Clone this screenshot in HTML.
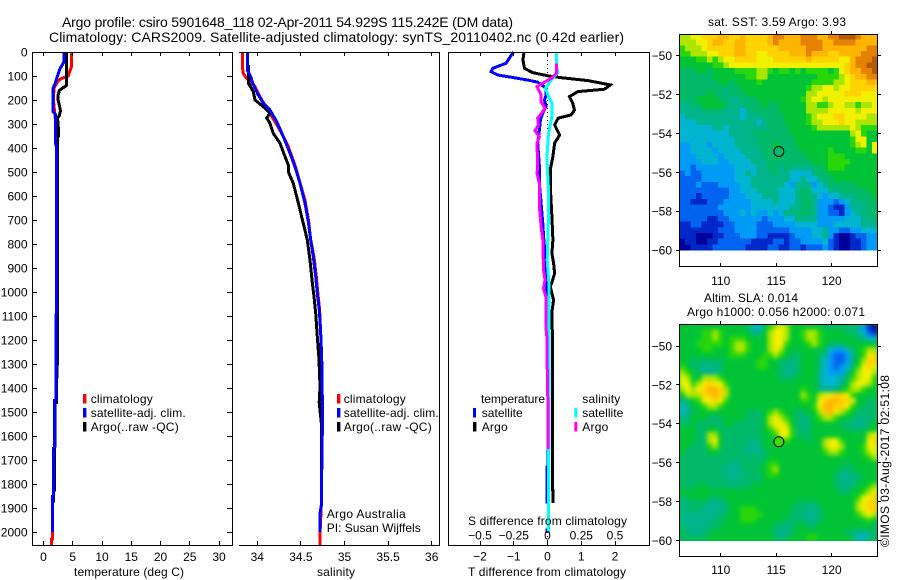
<!DOCTYPE html>
<html>
<head>
<meta charset="utf-8">
<title>Argo profile</title>
<style>
html,body{margin:0;padding:0;background:#fff;}
svg{display:block;}
text{font-family:"Liberation Sans",sans-serif;font-size:12px;fill:#000;}
.t{font-size:14px;}
</style>
</head>
<body>
<svg id="chart" xmlns="http://www.w3.org/2000/svg" width="900" height="580" viewBox="0 0 900 580">
<defs>
<filter id="slaBlur" x="-5%" y="-5%" width="110%" height="110%" color-interpolation-filters="sRGB"><feGaussianBlur stdDeviation="2"/></filter>
<clipPath id="slaClip"><rect x="680" y="325" width="197" height="216"/></clipPath>
</defs>
<rect x="0" y="0" width="900" height="580" fill="#fff"/>
<text class="t" x="62" y="27" textLength="451">Argo profile: csiro 5901648_118 02-Apr-2011 54.929S 115.242E (DM data)</text>
<text class="t" x="49" y="42" textLength="575">Climatology: CARS2009. Satellite-adjusted climatology: synTS_20110402.nc (0.42d earlier)</text>
<g id="profiles"></g>
<g id="maps"></g>

<text x="74" y="576" textLength="110">temperature (deg C)</text>
<text x="317" y="576" textLength="38">salinity</text>
<text x="468" y="576" textLength="158">T difference from climatology</text>
<text x="468" y="525" textLength="159">S difference from climatology</text>

<rect x="83" y="394" width="3.4" height="9.5" fill="#ff0000"/>
<rect x="83" y="408" width="3.4" height="9.5" fill="#0000ff"/>
<rect x="83" y="422" width="3.4" height="9.5" fill="#000"/>
<text x="90.7" y="403" textLength="62">climatology</text>
<text x="90.7" y="417" textLength="95">satellite-adj. clim.</text>
<text x="90.7" y="431" textLength="88">Argo(..raw -QC)</text>

<rect x="337" y="394" width="3.4" height="9.5" fill="#ff0000"/>
<rect x="337" y="408" width="3.4" height="9.5" fill="#0000ff"/>
<rect x="337" y="422" width="3.4" height="9.5" fill="#000"/>
<text x="343.7" y="403" textLength="62">climatology</text>
<text x="343.7" y="417" textLength="95">satellite-adj. clim.</text>
<text x="343.7" y="431" textLength="88">Argo(..raw -QC)</text>

<text x="326.7" y="518" textLength="79">Argo Australia</text>
<text x="326.7" y="532" textLength="94">PI: Susan Wijffels</text>

<text x="481" y="403" textLength="64">temperature</text>
<text x="481.7" y="417" textLength="41">satellite</text>
<text x="481.7" y="431" textLength="26">Argo</text>
<rect x="473" y="408" width="3" height="9.5" fill="#0000ff"/>
<rect x="473" y="422" width="3.4" height="9.5" fill="#000"/>
<text x="582.3" y="403" textLength="38">salinity</text>
<text x="582.3" y="417" textLength="41">satellite</text>
<text x="582.3" y="431" textLength="26">Argo</text>
<rect x="574.3" y="408" width="3" height="9.5" fill="#00ffff"/>
<rect x="574.3" y="422" width="3" height="9.5" fill="#ff00ff"/>

<text x="708" y="26" textLength="138">sat. SST: 3.59 Argo: 3.93</text>
<text x="704" y="302" textLength="94">Altim. SLA: 0.014</text>
<text x="687" y="316" textLength="178">Argo h1000: 0.056 h2000: 0.071</text>
<text transform="translate(889 547) rotate(-90)" x="0" y="0" textLength="172">©IMOS 03-Aug-2017 02:51:08</text>
</svg>

<script>
// ---- axis tick labels ----
const depthTicks = [0,100,200,300,400,500,600,700,800,900,1000,1100,1200,1300,1400,1500,1600,1700,1800,1900,2000];
const tempTicks = [0,5,10,15,20,25,30];
const salTicks = [34,34.5,35,35.5,36];
const salTickLabels = ['34','34.5','35','35.5','36'];
const tDiffTicks = [-2,-1,0,1,2];
const tDiffLabels = ['\u22122','\u22121','0','1','2'];
const sDiffTicks = [-0.5,-0.25,0,0.25,0.5];
const sDiffLabels = ['\u22120.5','\u22120.25','0','0.25','0.5'];
const lonTicks = [110,115,120];
const latTicks = [-50,-52,-54,-56,-58,-60];
const latLabels = ['\u221250','\u221252','\u221254','\u221256','\u221258','\u221260'];

// ---- temperature profiles ----
const climTempDepth = [0,60,80,100,110,120,150,200,250,300,350,400,600,1000,1380,1450,1451,1650,1651,1850,1851,2000,2001,2030,2031,2055];
const climTempValue = [4.8,4.8,4.5,4.2,3.1,2.5,1.8,1.7,1.9,2.1,2.2,2.3,2.3,2.2,2.1,2.1,1.91,1.91,1.74,1.74,1.5,1.5,1.57,1.57,1.4,1.4];
const satTempDepth = [0,40,50,70,100,130,150,250,260,380,400,600,1000,1380,1450,1451,1650,1651,1850,1851,2000];
const satTempValue = [3.5,3.5,3.3,2.8,2.4,2.0,1.65,1.65,2.05,2.05,2.25,2.25,2.2,2.1,2.1,1.91,1.91,1.74,1.74,1.5,1.5];
const argoTempDepth = [0,130,140,160,180,200,220,245,265,275,300,350,355,400,600,900,1300,1400,1460,1461,1640,1650,1825,1826,1878];
const argoTempValue = [3.95,3.95,3.9,2.7,2.5,2.5,2.7,2.9,2.7,2.4,2.5,2.6,2.4,2.4,2.4,2.42,2.36,2.2,2.2,2.0,2.0,1.88,1.88,1.71,1.71];

// ---- salinity profiles ----
const climSalDepth = [0,60,90,110,144,186,235,290,339,394,472,617,707,783,853,936,1006,1075,1172,1270,1880,2000,2055];
const climSalValue = [33.828,33.828,33.84,33.878,33.974,34.03,34.108,34.203,34.28,34.355,34.432,34.547,34.59,34.612,34.65,34.677,34.695,34.715,34.727,34.735,34.735,34.72,34.72];
const satSalDepth = [0,75,103,137,179,213,242,290,353,422,478,547,630,707,783,853,936,1006,1075,1172,1270,1550,1650,1880,1920,2000];
const satSalValue = [33.885,33.885,33.924,33.954,34.012,34.069,34.146,34.222,34.299,34.375,34.432,34.49,34.547,34.585,34.612,34.642,34.67,34.688,34.711,34.727,34.738,34.75,34.74,34.738,34.72,34.72];
const argoSalDepth = [54,130,165,200,228,255,275,297,339,380,436,471,499,547,603,658,714,783,867,950,1019,1089,1186,1283,1394,1460,1550,1880];
const argoSalValue = [33.897,33.897,33.954,33.974,34.069,34.146,34.108,34.146,34.184,34.26,34.318,34.355,34.355,34.413,34.452,34.49,34.528,34.573,34.604,34.627,34.65,34.67,34.688,34.708,34.719,34.71,34.735,34.735];

// ---- differences from climatology ----
const satTDiffDepth = [0,47,68,82,96,105,117,126,151,179,200,228,255,283,325,380,478,547,630,714,783,840,978,1400,1728,1729,1875,1876,1990,1991,2005];
const satTDiffValue = [-1.01,-1.23,-1.62,-1.67,-1.48,-1.08,-0.58,-0.29,-0.04,-0.04,-0.09,-0.04,-0.14,-0.21,-0.24,-0.29,-0.24,-0.24,-0.19,-0.14,-0.11,-0.07,-0.03,0.01,0.02,-0.01,-0.01,0.03,0.03,-0.01,-0.01];
const argoTDiffDepth = [5,33,68,86,99,107,119,137,155,165,186,214,242,262,276,304,346,380,436,485,575,686,783,839,880,922,957,978,1033,1075,1825,1826,1880];
const argoTDiffValue = [-0.70,-0.73,-0.68,-0.44,0.01,0.41,1.2,1.86,1.69,0.9,0.65,0.75,0.8,0.7,0.31,0.21,0.36,0.21,0.16,0.09,0.09,0.13,0.16,0.13,0.18,0.21,0.14,0.08,0.18,0.14,0.155,0.17,0.17];
const satSDiffDepth = [0,61,85,117,151,186,214,269,339,422,464,575,672,783,867,922,978,1650,1651,2000];
const satSDiffValue = [0.26,0.26,0.31,0.11,-0.06,0.03,0.13,0.13,0.03,-0.01,-0.01,0.03,0.03,0.01,-0.01,0.02,0.05,0.05,0.03,0.03];
const argoSDiffDepth = [47,89,110,144,179,207,235,276,304,328,353,380,478,506,547,644,728,783,908,950,985,1019,1144,1200,1311,1490,1654];
const argoSDiffValue = [0.26,0.26,0.11,-0.31,-0.19,-0.19,-0.07,-0.29,-0.27,-0.37,-0.24,-0.31,-0.29,-0.31,-0.24,-0.24,-0.19,-0.14,-0.12,-0.07,-0.12,-0.05,-0.05,-0.01,-0.01,0.015,0.02];

// ---- map extents ----
const mapRowCount = 38;
const mapColCount = 36;

// ---- SST map cells (colour-scale level, north row first) ----
const sstGrid = [
[9,9,10,10,11,11,11,12,12,11,11,12,11,11,11,11,12,13,13,12,12,12,13,13,13,12,12,13,13,14,14,14,13,12,12,12],
[9,9,9,10,10,11,12,12,11,11,12,12,11,11,11,11,12,13,12,12,12,12,13,13,13,13,12,12,13,13,13,13,12,12,12,12],
[8,9,9,9,10,11,11,11,11,11,12,12,11,11,11,11,11,11,12,12,12,12,12,13,13,13,12,12,12,12,12,12,12,12,13,13],
[8,8,9,9,9,10,10,11,11,11,12,12,11,11,10,10,11,11,11,11,12,12,12,13,12,12,12,11,11,12,12,12,12,13,13,13],
[7,7,7,8,8,9,8,9,10,10,11,11,11,11,10,10,10,11,11,11,11,11,11,12,11,11,11,11,11,10,10,12,13,13,13,14],
[7,7,7,7,7,7,8,8,9,10,10,10,10,10,10,10,10,10,10,10,10,10,10,10,10,10,10,10,10,10,11,12,13,13,14,14],
[6,6,6,7,7,6,7,7,7,7,8,8,8,8,9,9,8,7,8,8,7,8,7,8,8,8,8,7,8,10,11,12,12,13,13,14],
[6,6,6,6,6,6,7,7,7,7,7,7,8,8,9,9,7,7,7,7,7,7,7,7,7,8,8,8,8,9,10,11,12,12,13,13],
[6,6,6,6,6,6,6,7,7,6,7,7,7,7,8,7,7,7,7,7,7,7,7,7,8,8,8,8,9,9,10,11,11,11,12,12],
[6,6,6,6,6,6,6,6,6,6,6,7,7,7,7,7,7,7,7,7,7,7,7,8,9,9,10,10,9,10,10,11,11,11,11,11],
[6,6,6,6,6,7,6,6,5,6,6,6,7,7,7,7,7,7,7,7,7,7,7,9,9,10,10,10,10,10,11,11,11,10,10,10],
[6,6,6,7,7,7,7,6,6,5,5,6,6,6,7,7,7,7,7,7,7,7,8,9,10,10,9,10,10,10,10,10,10,10,10,10],
[5,5,6,6,7,7,7,7,6,5,5,5,6,6,6,7,6,6,7,7,7,7,7,9,9,8,8,9,10,10,9,9,8,9,9,10],
[5,5,5,5,6,6,6,6,5,5,5,4,5,6,6,6,6,6,7,7,7,7,7,9,9,9,9,10,10,10,10,10,9,10,10,10],
[4,5,5,5,5,5,5,5,5,5,5,4,5,5,5,6,6,6,6,7,7,7,7,8,9,10,10,10,11,11,10,10,10,10,9,9],
[4,4,4,5,5,5,5,5,5,5,5,5,5,5,4,5,6,6,6,7,7,7,7,8,9,9,10,10,10,11,10,10,9,9,9,9],
[4,4,4,4,4,4,5,5,4,5,5,5,5,5,5,5,6,6,6,6,7,7,7,7,8,9,9,9,9,9,9,10,9,8,8,8],
[4,4,4,4,4,4,4,4,4,5,5,5,5,6,6,6,6,6,6,6,7,7,7,7,7,7,7,7,7,7,7,9,10,8,7,7],
[4,4,4,4,4,4,4,4,4,4,5,5,5,5,6,6,6,6,6,6,6,7,7,7,7,7,7,7,7,7,7,8,10,10,7,7],
[3,3,4,4,4,3,4,4,4,4,5,5,5,5,6,6,6,7,6,6,6,7,7,7,7,7,7,7,7,7,7,8,9,10,7,10],
[3,3,4,4,4,4,3,4,4,4,4,5,5,5,5,6,6,6,6,6,6,6,7,7,7,7,7,8,7,7,7,7,8,8,7,10],
[3,3,3,4,4,4,4,3,4,4,4,4,5,5,5,6,6,6,6,6,6,6,6,7,7,7,7,8,8,8,7,7,7,7,7,7],
[3,3,3,3,4,4,4,3,3,4,4,4,4,5,5,5,6,6,6,6,6,6,6,6,7,7,7,8,8,8,8,7,7,7,7,7],
[3,3,2,3,3,3,3,3,3,3,4,4,4,4,5,5,6,6,5,6,5,5,5,5,6,6,7,8,8,8,7,7,7,7,7,7],
[2,3,2,2,3,3,3,3,3,3,4,4,5,4,5,5,5,6,5,5,4,4,4,4,5,6,6,7,7,7,7,7,7,7,7,7],
[2,2,2,2,3,3,3,3,3,3,4,4,4,5,5,5,5,5,5,5,4,4,5,4,4,5,6,6,7,7,7,7,7,7,7,7],
[2,2,2,3,2,2,2,3,3,3,3,4,4,5,5,5,5,5,5,4,3,5,5,5,3,4,5,6,6,6,6,6,7,7,7,7],
[2,2,2,2,2,2,2,2,2,3,3,4,4,4,5,5,5,5,4,4,4,5,6,6,4,4,4,5,5,6,6,6,6,6,7,7],
[2,2,2,1,2,2,2,2,2,3,3,3,4,4,4,5,5,5,4,4,4,5,6,6,5,4,3,4,4,5,5,5,6,6,6,7],
[2,2,1,1,1,2,2,2,3,3,3,3,3,4,4,4,4,5,4,4,4,5,6,6,5,3,3,3,2,3,4,5,5,6,6,6],
[2,2,2,2,2,2,2,3,3,3,3,3,3,4,4,4,4,4,4,4,5,5,6,6,5,3,3,2,1,1,3,5,5,5,6,6],
[2,2,2,2,2,2,2,2,3,3,3,4,3,4,3,3,4,3,4,5,5,6,6,6,5,3,3,2,2,1,3,4,5,5,6,6],
[2,2,2,2,2,1,1,2,2,3,3,3,3,3,3,2,3,3,3,4,4,5,5,5,5,3,3,3,3,3,4,4,4,5,5,6],
[1,1,2,2,1,1,1,1,2,2,3,3,3,3,2,2,2,3,3,3,3,4,4,4,4,3,3,3,4,4,4,4,4,5,5,5],
[1,1,1,1,1,1,1,2,2,2,3,3,3,3,2,2,2,2,2,2,3,3,3,3,4,4,5,3,3,2,2,3,3,4,4,4],
[1,1,1,0,0,0,1,1,2,2,2,3,3,3,2,2,1,1,1,1,2,3,3,3,4,4,5,3,1,0,0,1,2,2,3,3],
[0,1,1,0,0,1,1,2,2,2,2,2,2,1,1,1,1,2,2,1,2,2,3,3,3,3,4,2,1,0,0,1,1,2,3,3],
[0,0,1,1,1,1,2,2,2,2,2,2,1,1,1,1,2,2,1,1,2,2,1,2,2,2,3,2,1,0,0,1,1,2,3,3]
];

// ---- SLA map cells (colour-scale level, north row first) ----
const slaGrid = [
[7,7,7,7,7,7,7,7,7,7,7,7,6,4,4,6,8,9,10,9,7,7,7,7,7,7,6,6,6,6,6,6,5,3,1,0],
[7,7,7,7,8,8,9,8,7,7,7,7,7,5,5,7,9,10,10,9,7,7,8,9,9,8,7,7,7,7,6,6,5,4,2,1],
[7,7,7,7,8,8,9,8,7,8,8,8,7,7,7,7,9,10,10,9,7,7,8,9,9,8,7,7,7,7,7,7,6,5,4,4],
[7,7,7,8,8,8,8,8,7,8,9,9,8,7,7,7,9,10,10,8,7,7,7,8,9,8,7,6,6,6,7,7,7,7,7,7],
[7,7,7,7,8,8,7,7,7,8,9,9,8,7,7,7,9,10,9,7,7,7,7,7,7,7,6,4,3,3,4,6,7,8,9,9],
[7,7,7,7,7,7,7,7,7,8,8,8,7,7,7,8,8,9,8,7,6,6,7,7,7,6,5,3,2,2,3,5,7,8,10,11],
[7,7,6,6,6,6,6,6,7,7,7,7,7,7,8,8,7,7,6,6,5,6,7,7,7,6,4,3,2,2,3,5,7,9,11,11],
[8,7,6,6,5,5,5,6,7,7,7,7,7,7,8,8,7,7,6,5,5,6,7,7,7,6,4,3,2,3,4,6,8,10,11,10],
[9,8,7,6,5,5,5,6,7,7,7,7,7,7,7,7,7,7,6,5,5,6,7,7,7,5,4,3,3,3,5,7,9,10,10,9],
[10,9,7,7,9,9,9,8,7,7,7,7,7,7,7,7,7,7,6,6,6,7,7,7,7,5,4,4,4,5,6,8,9,10,10,8],
[10,10,8,9,10,11,10,10,8,7,7,7,7,7,7,7,7,7,7,7,7,7,7,7,7,5,4,4,4,5,7,9,10,10,9,8],
[9,10,9,10,11,12,12,11,9,7,7,7,7,7,7,7,7,7,7,7,7,7,8,7,7,6,5,5,6,7,8,9,9,8,7,7],
[7,9,9,9,11,11,12,11,9,7,7,7,7,7,7,7,7,7,7,7,7,7,9,8,7,9,10,10,11,11,10,8,7,7,7,7],
[5,6,7,8,10,10,11,10,8,7,7,7,7,7,7,7,7,7,7,7,7,7,8,8,7,10,11,12,12,11,11,10,7,7,6,6],
[4,5,7,7,8,9,9,8,7,7,7,7,7,7,7,7,7,7,7,7,7,7,7,7,8,10,12,12,11,11,10,8,7,6,6,6],
[4,5,6,7,7,7,7,7,7,7,7,7,6,6,6,7,8,9,8,7,7,6,6,7,7,9,11,12,10,9,8,7,6,6,6,6],
[5,6,7,7,7,6,6,6,7,7,7,7,6,6,6,7,9,10,9,8,7,6,5,6,7,8,9,9,8,7,7,6,6,5,6,6],
[6,6,7,6,6,6,6,6,7,7,6,6,6,6,6,7,9,10,10,9,7,6,5,6,7,7,7,7,7,6,6,5,5,5,6,7],
[7,7,7,6,6,7,7,6,6,6,6,6,6,6,6,7,8,9,10,10,8,6,6,6,7,7,7,7,7,7,6,6,6,6,7,7],
[7,7,7,6,6,9,9,7,6,6,6,6,6,6,6,7,7,8,10,10,8,6,6,6,7,7,7,7,7,7,7,7,7,7,9,10],
[7,7,7,6,6,9,10,7,6,6,6,6,6,5,6,7,7,7,8,8,7,7,7,6,7,7,9,10,10,8,7,7,7,7,10,11],
[7,7,6,6,6,8,9,7,6,6,6,6,5,5,5,7,7,7,7,7,7,7,7,7,7,7,9,10,10,9,7,7,7,8,10,10],
[7,6,6,6,6,7,7,6,6,6,6,6,5,5,5,6,7,7,7,7,7,7,7,7,7,7,8,9,9,8,7,7,7,8,9,10],
[6,6,6,6,6,6,6,6,6,6,6,6,6,6,6,6,7,7,7,7,7,7,7,7,7,7,7,7,7,7,7,7,7,7,8,9],
[6,6,6,6,6,6,6,6,6,5,5,6,6,6,6,7,8,8,7,7,7,7,7,7,7,7,7,7,7,7,6,7,7,7,7,7],
[6,6,6,6,6,6,6,6,5,5,5,6,6,6,7,7,8,9,7,7,7,7,7,7,7,7,7,7,7,6,6,6,7,7,7,7],
[6,6,6,6,6,6,6,6,5,5,5,5,6,6,6,7,8,8,7,7,7,7,7,7,7,7,7,7,6,5,5,6,6,7,7,7],
[6,6,6,6,6,6,6,6,6,5,5,6,6,6,6,7,7,7,7,7,7,7,7,7,7,7,7,7,6,5,5,5,6,7,7,7],
[6,6,6,7,7,6,6,6,6,6,6,6,6,7,7,7,7,7,7,7,7,7,7,7,7,7,7,7,6,6,5,6,7,7,8,9],
[7,7,7,7,7,7,7,7,7,7,7,7,7,7,7,7,7,7,7,7,7,7,7,7,7,7,7,7,7,6,6,7,7,8,9,10],
[6,6,7,7,7,6,6,6,7,7,7,7,7,7,7,7,7,7,7,7,7,7,7,7,7,7,7,7,7,7,7,7,8,10,10,11],
[5,6,6,6,6,5,5,5,6,7,7,7,7,7,7,7,7,7,7,7,7,6,6,6,6,7,7,7,7,7,7,7,9,10,11,11],
[5,6,6,6,5,5,5,5,6,7,7,8,8,8,7,7,7,7,7,7,6,6,6,5,5,6,7,7,7,7,7,7,9,10,11,11],
[5,5,5,5,5,5,5,6,6,7,7,8,8,8,8,7,7,7,7,7,6,6,5,5,5,6,7,7,7,7,7,7,8,9,10,9],
[5,5,5,5,5,5,6,6,7,7,7,8,8,8,7,7,7,7,7,6,6,6,6,5,5,6,7,7,7,7,7,7,7,7,8,7],
[6,5,5,5,5,6,6,6,7,7,7,7,7,7,7,7,7,6,6,5,6,7,7,6,6,7,7,7,7,7,7,7,7,7,7,6],
[6,6,5,5,6,6,7,7,7,7,7,7,7,7,7,7,7,5,5,5,6,7,7,7,7,7,7,7,7,7,6,6,5,5,6,6],
[6,6,6,6,6,7,7,7,7,7,7,7,7,7,7,7,7,6,5,6,7,7,7,8,8,7,7,7,7,7,7,6,4,4,5,6]
];

// ---- Argo float position ----
const argoLon = 115.24;
const argoLat = -54.93;

// ---- axis functions ----
function yDepth(d){ return 52 + 0.24 * d; }
function xTemp(t){ return 43.5 + 5.85 * t; }
function xSal(s){ return 257.3 + 87.2 * (s - 34); }
function xDiff(v){ return 547.5 + 33.75 * v; }
function xSDiff(s){ return xDiff(s * 4); }
function xLon(lon){ return 720.7 + 11.1 * (lon - 110); }
function yLatTop(lat){ return 55.7 + 19.43 * (-50 - lat); }
function yLatBottom(lat){ return 346 + 19.43 * (-50 - lat); }

// colour scale anchors for map levels
const palette = ['#00009a','#0028c8','#0064f0','#009bf5','#00b4d2','#00b48c','#00ba6a','#00c436','#28d60a','#aae600','#f0f000','#ffd200','#ffb400','#e68200','#b45a00'];
function levelColor(v){
  const i = Math.max(0, Math.min(palette.length - 1, Math.round(v)));
  return palette[i];
}

const NS = 'http://www.w3.org/2000/svg';
const profiles = document.getElementById('profiles');
const maps = document.getElementById('maps');

function make(tag, parent, attrs){
  const el = document.createElementNS(NS, tag);
  for (const k in attrs) el.setAttribute(k, attrs[k]);
  parent.appendChild(el);
  return el;
}
function crispLine(parent, x1, y1, x2, y2){
  return make('line', parent, {x1:x1, y1:y1, x2:x2, y2:y2, stroke:'#000', 'stroke-width':1, 'shape-rendering':'crispEdges'});
}
function px(v){ return Math.floor(v) + 0.5; }
function curve(parent, depths, values, xFn, color){
  const pts = depths.map(function(d, i){ return xFn(values[i]).toFixed(1) + ',' + yDepth(d).toFixed(1); }).join(' ');
  return make('polyline', parent, {points:pts, fill:'none', stroke:color, 'stroke-width':3, 'stroke-linejoin':'miter', 'shape-rendering':'crispEdges'});
}

// ---- profile curves ----
let c;
c = curve(profiles, climTempDepth, climTempValue, xTemp, '#ff0000');


c = curve(profiles, argoTempDepth, argoTempValue, xTemp, '#000000');


c = curve(profiles, satTempDepth, satTempValue, xTemp, '#0000ff');


c = curve(profiles, climSalDepth, climSalValue, xSal, '#ff0000');


c = curve(profiles, argoSalDepth, argoSalValue, xSal, '#000000');


c = curve(profiles, satSalDepth, satSalValue, xSal, '#0000ff');



// zero reference line on difference panel
const zero = make('line', profiles, {x1:xDiff(0), y1:52, x2:xDiff(0), y2:545, stroke:'#000', 'stroke-width':1, 'stroke-dasharray':'1 3', 'shape-rendering':'crispEdges'});



c = curve(profiles, satTDiffDepth, satTDiffValue, xDiff, '#0000ff');


c = curve(profiles, argoTDiffDepth, argoTDiffValue, xDiff, '#000000');


c = curve(profiles, satSDiffDepth, satSDiffValue, xDiff, '#00ffff');


c = curve(profiles, argoSDiffDepth, argoSDiffValue, xDiff, '#ff00ff');



// ---- panel frames ----
let f;
f = make('path', profiles, {d:'M32.5 52.5H232.5V545.5H32.5Z', fill:'none', stroke:'#000', 'stroke-width':1, 'shape-rendering':'crispEdges'});


f = make('path', profiles, {d:'M239 52.5H439.5V545.5H239', fill:'none', stroke:'#000', 'stroke-width':1, 'shape-rendering':'crispEdges'});


f = make('path', profiles, {d:'M448.5 52.5H649.5V545.5H448.5Z', fill:'none', stroke:'#000', 'stroke-width':1, 'shape-rendering':'crispEdges'});



// ---- depth ticks + labels ----
depthTicks.forEach(function(d){
  const y = px(yDepth(d));
  const t = crispLine(profiles, 32, y, 37, y);
  
  
  const r = crispLine(profiles, 227, y, 232, y);
  
  
  const l = make('text', profiles, {x:27.5, y:yDepth(d) + 4.5, 'text-anchor':'end'});
  l.textContent = String(d);
  
  
});

// ---- temperature ticks ----
tempTicks.forEach(function(v){
  const x = px(xTemp(v));
  const a = crispLine(profiles, x, 52, x, 56);
  
  
  const b = crispLine(profiles, x, 541, x, 545);
  
  
  const l = make('text', profiles, {x:xTemp(v), y:561, 'text-anchor':'middle'});
  l.textContent = String(v);
  
  
});

// ---- salinity ticks ----
salTicks.forEach(function(v, i){
  const x = px(xSal(v));
  const a = crispLine(profiles, x, 52, x, 56);
  
  
  const b = crispLine(profiles, x, 541, x, 545);
  
  
  const l = make('text', profiles, {x:xSal(v), y:561, 'text-anchor':'middle'});
  l.textContent = salTickLabels[i];
  
  
});

// ---- difference ticks ----
tDiffTicks.forEach(function(v, i){
  const x = px(xDiff(v));
  const a = crispLine(profiles, x, 52, x, 56);
  
  
  const b = crispLine(profiles, x, 541, x, 545);
  
  
  const l = make('text', profiles, {x:xDiff(v), y:560.5, 'text-anchor':'middle'});
  l.textContent = tDiffLabels[i];
  
  
});
sDiffTicks.forEach(function(v, i){
  const l = make('text', profiles, {x:xSDiff(v), y:539.5, 'text-anchor':'middle'});
  l.textContent = sDiffLabels[i];
  
  
});

// ---- maps ----
const mapLeft = 679.5;
const mapRight = 877.5;
const cellW = (mapRight - mapLeft) / mapColCount;
const sstCellH = (yLatTop(-60) - 34) / mapRowCount;
const slaCellH = (yLatBottom(-60) - 324) / mapRowCount;

sstGrid.forEach(function(row, r){
  row.forEach(function(v, col){
    const cell = make('rect', maps, {x:mapLeft + col * cellW, y:34 + r * sstCellH, width:cellW + 0.3, height:sstCellH + 0.3, fill:levelColor(v), 'shape-rendering':'crispEdges'});
    
    
  });
});

const slaClipGroup = make('g', maps, {'clip-path':'url(#slaClip)'});


const slaBacking = make('rect', slaClipGroup, {x:670, y:315, width:215, height:235, fill:palette[7]});


const slaGroup = make('g', slaClipGroup, {filter:'url(#slaBlur)'});


slaGrid.forEach(function(row, r){
  row.forEach(function(v, col){
    const cell = make('rect', slaGroup, {x:mapLeft + col * cellW, y:324 + r * slaCellH, width:cellW + 0.3, height:slaCellH + 0.3, fill:levelColor(v), 'shape-rendering':'crispEdges'});
    
    
  });
});

f = make('rect', maps, {x:679.5, y:34.5, width:198, height:232, fill:'none', stroke:'#000', 'stroke-width':1, 'shape-rendering':'crispEdges'});


f = make('rect', maps, {x:679.5, y:324.5, width:198, height:232, fill:'none', stroke:'#000', 'stroke-width':1, 'shape-rendering':'crispEdges'});



latTicks.forEach(function(lat, i){
  const y1 = px(yLatTop(lat));
  const a = crispLine(maps, 676, y1, 680, y1);
  
  
  const a2 = crispLine(maps, 877, y1, 881, y1);
  
  
  const l1 = make('text', maps, {x:672, y:yLatTop(lat) + 4.5, 'text-anchor':'end'});
  l1.textContent = latLabels[i];
  
  
  const y2 = px(yLatBottom(lat));
  const b = crispLine(maps, 676, y2, 680, y2);
  
  
  const b2 = crispLine(maps, 877, y2, 881, y2);
  
  
  const l2 = make('text', maps, {x:672, y:yLatBottom(lat) + 4.5, 'text-anchor':'end'});
  l2.textContent = latLabels[i];
  
  
});

lonTicks.forEach(function(lon){
  const x = px(xLon(lon));
  const a = crispLine(maps, x, 263, x, 267);
  
  
  const a2 = crispLine(maps, x, 31, x, 35);
  
  
  const l1 = make('text', maps, {x:xLon(lon), y:285, 'text-anchor':'middle'});
  l1.textContent = String(lon);
  
  
  const b = crispLine(maps, x, 553, x, 557);
  
  
  const b2 = crispLine(maps, x, 321, x, 325);
  
  
  const l2 = make('text', maps, {x:xLon(lon), y:574, 'text-anchor':'middle'});
  l2.textContent = String(lon);
  
  
});

const m1 = make('circle', maps, {cx:xLon(argoLon), cy:yLatTop(argoLat), r:5, fill:'none', stroke:'#000', 'stroke-width':1});


const m2 = make('circle', maps, {cx:xLon(argoLon), cy:yLatBottom(argoLat), r:5, fill:'#3cdc00', stroke:'#000', 'stroke-width':1});


</script>
</body>
</html>
